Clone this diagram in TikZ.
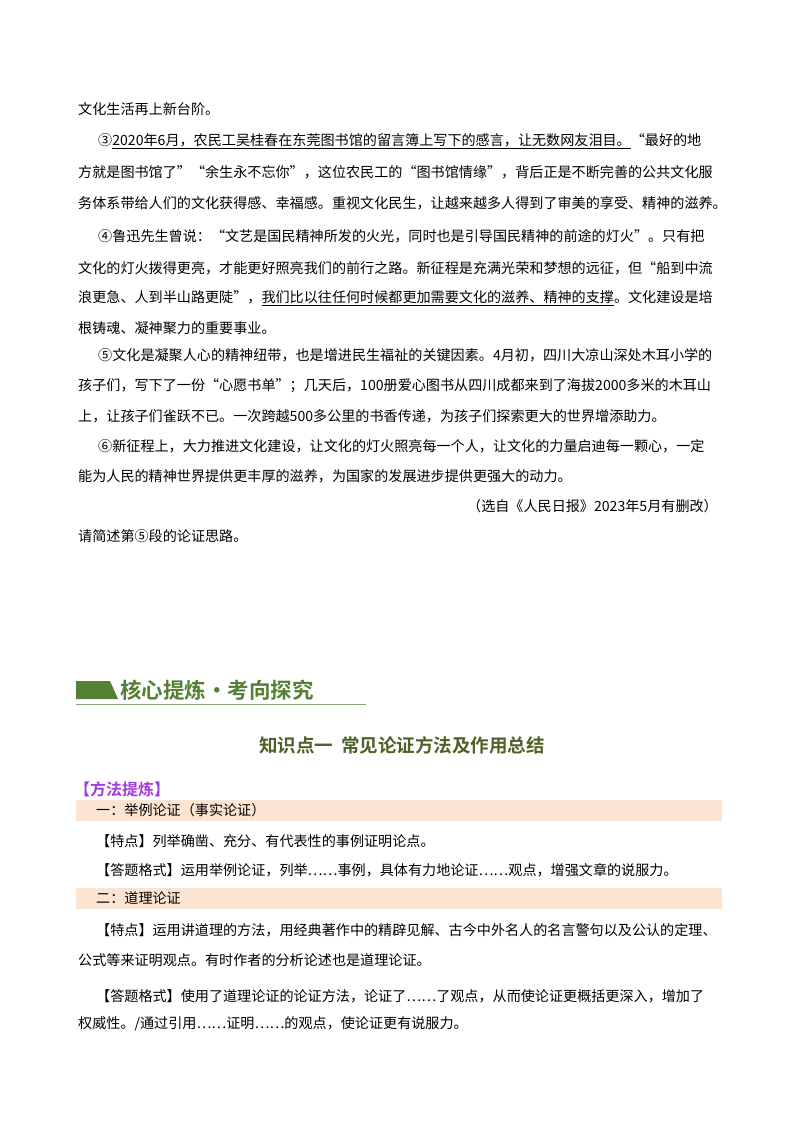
\documentclass[tikz,border=0pt]{standalone}
\usepackage{fontspec}
\setmainfont{Liberation Serif}
\newfontfamily\cjk{Noto Sans CJK SC}
\newfontfamily\cjkb{Noto Sans CJK SC}[BoldFont={* Bold}]
\definecolor{bangreen}{RGB}{84,128,52}
\definecolor{titgreen}{RGB}{78,98,40}
\definecolor{purp}{RGB}{160,60,220}
\definecolor{peach}{RGB}{252,228,210}
\begin{document}
\begin{tikzpicture}[x=1pt,y=-1pt,
  ln/.style={anchor=west,inner sep=0pt,font=\cjk\fontsize{14.1}{15}\selectfont},
  bar/.style={fill=peach,draw=none}]
\useasboundingbox[fill=white] (0,0) rectangle (800,1132);
\node[ln] (l1) at (78,109) {文化生活再上新台阶。};
\node[ln] (l2) at (98,141) {③\underline{2020年6月，农民工吴桂春在东莞图书馆的留言簿上写下的感言，让无数网友泪目。}“最好的地};
\node[ln] (l3) at (78,172) {方就是图书馆了”“余生永不忘你”，这位农民工的“图书馆情缘”，背后正是不断完善的公共文化服};
\node[ln] (l4) at (78,203) {务体系带给人们的文化获得感、幸福感。重视文化民生，让越来越多人得到了审美的享受、精神的滋养。};
\node[ln] (l5) at (98,236) {④鲁迅先生曾说：“文艺是国民精神所发的火光，同时也是引导国民精神的前途的灯火”。只有把};
\node[ln] (l6) at (78,268) {文化的灯火拨得更亮，才能更好照亮我们的前行之路。新征程是充满光荣和梦想的远征，但“船到中流};
\node[ln] (l7) at (78,298) {浪更急、人到半山路更陡”，\underline{我们比以往任何时候都更加需要文化的滋养、精神的支撑}。文化建设是培};
\node[ln] (l8) at (78,328) {根铸魂、凝神聚力的重要事业。};
\node[ln] (l9) at (98,355) {⑤文化是凝聚人心的精神纽带，也是增进民生福祉的关键因素。4月初，四川大凉山深处木耳小学的};
\node[ln] (l10) at (78,386) {孩子们，写下了一份“心愿书单”；几天后，100册爱心图书从四川成都来到了海拔2000多米的木耳山};
\node[ln] (l11) at (78,416) {上，让孩子们雀跃不已。一次跨越500多公里的书香传递，为孩子们探索更大的世界增添助力。};
\node[ln] (l12) at (98,446) {⑥新征程上，大力推进文化建设，让文化的灯火照亮每一个人，让文化的力量启迪每一颗心，一定};
\node[ln] (l13) at (78,476) {能为人民的精神世界提供更丰厚的滋养，为国家的发展进步提供更强大的动力。};
\node[ln,anchor=east] (l14) at (718,506) {（选自《人民日报》2023年5月有删改）};
\node[ln] (l15) at (78,536) {请简述第⑤段的论证思路。};
% banner
\fill[bangreen] (76,681) -- (110,681) -- (118,699) -- (76,699) -- cycle;
\draw[bangreen!70,line width=0.8pt] (76,704) -- (366,704);
\node[anchor=west,inner sep=0pt,text=bangreen,font=\cjkb\bfseries\fontsize{21.5}{22}\selectfont] (ban) at (120,690) {核心提炼·考向探究};
\node[inner sep=0pt,text=titgreen,font=\cjkb\bfseries\fontsize{18.5}{19}\selectfont] (tit) at (402,745) {知识点一\ \ 常见论证方法及作用总结};
\node[anchor=west,inner sep=0pt,text=purp,font=\cjkb\bfseries\fontsize{16}{17}\selectfont] (ff) at (74,789) {【方法提炼】};
\fill[peach] (76,800) rectangle (722,821);
\node[ln] (b1) at (96,810) {一：举例论证（事实论证）};
\node[ln] (b2) at (96,841) {【特点】列举确凿、充分、有代表性的事例证明论点。};
\node[ln] (b3) at (96,870) {【答题格式】运用举例论证，列举……事例，具体有力地论证……观点，增强文章的说服力。};
\fill[peach] (76,888) rectangle (722,909);
\node[ln] (b4) at (96,898) {二：道理论证};
\node[ln] (b5) at (96,930) {【特点】运用讲道理的方法，用经典著作中的精辟见解、古今中外名人的名言警句以及公认的定理、};
\node[ln] (b6) at (78,960) {公式等来证明观点。有时作者的分析论述也是道理论证。};
\node[ln] (b7) at (96,996) {【答题格式】使用了道理论证的论证方法，论证了……了观点，从而使论证更概括更深入，增加了};
\node[ln] (b8) at (78,1024) {权威性。/通过引用……证明……的观点，使论证更有说服力。};
\end{tikzpicture}
\end{document}
